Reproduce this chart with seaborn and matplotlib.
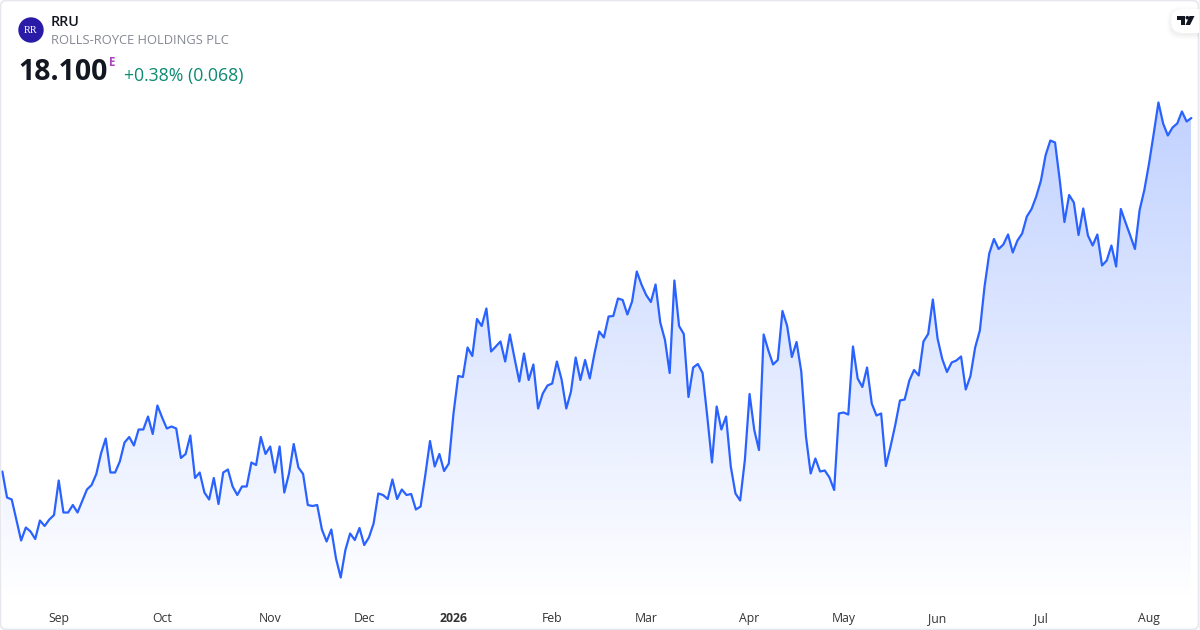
import numpy as np
import pandas as pd
import matplotlib.pyplot as plt
import seaborn as sns
from matplotlib.patches import Circle, FancyBboxPatch, Polygon

# Daily closes
closes_2025_a = [
    11.03, 10.51, 10.47, 10.06, 9.65, 9.91, 9.83, 9.68, 10.05, 9.94, 10.07, 10.16, 10.85, 10.21, 10.21, 10.36,
    10.21, 10.44, 10.67, 10.76, 10.98, 11.39, 11.69, 11.01, 11.01, 11.23, 11.61, 11.72, 11.55, 11.87, 11.87, 12.13,
    11.78, 12.35, 12.11, 11.89, 11.93, 11.89, 11.30, 11.38, 11.75, 10.90, 11.01, 10.61, 10.47, 10.90, 10.38, 11.01,
    11.07, 10.73, 10.56, 10.73, 10.73, 11.21, 11.16, 11.72, 11.38, 11.53, 11.01, 11.53, 10.61, 10.99, 11.58, 11.11,
]
closes_2025_b = [
    10.98, 10.36, 10.34, 10.36, 9.87, 9.63, 9.87, 9.29, 8.91, 9.46, 9.79, 9.66, 9.90, 9.56, 9.71, 9.99,
    10.59, 10.56, 10.48, 10.87, 10.48, 10.67, 10.56, 10.58, 10.27, 10.33, 10.96, 11.64, 11.13, 11.38, 11.04, 11.19,
    12.19,
]
closes_2026_a = [
    12.94, 12.92, 13.51, 13.34, 14.08, 13.94, 14.29, 13.43, 13.53, 13.63, 13.23, 13.77, 13.29, 12.83, 13.39, 12.86,
    13.17, 12.29, 12.59, 12.75, 12.79, 13.23, 12.87, 12.29, 12.63, 13.31, 12.86, 13.26, 12.89, 13.39, 13.83, 13.71,
    14.13, 14.14, 14.49, 14.46, 14.17, 14.43, 15.03, 14.77, 14.56, 14.42, 14.77, 14.01, 13.66, 13.00, 14.85, 13.94,
    13.78, 12.52, 13.11, 13.18, 13.00, 12.13, 11.21, 12.33, 11.87, 12.13,
]
closes_2026_b = [
    11.13, 10.59, 10.45, 11.26, 12.58, 11.86, 11.46, 13.77, 13.45, 13.17, 13.26, 14.24, 13.94, 13.32, 13.62, 13.03,
    11.73, 10.99, 11.29, 11.03, 11.05, 10.91, 10.66, 12.19, 12.21, 12.17, 13.53, 12.89, 12.72, 13.11, 12.39, 12.15,
    12.19, 11.14, 11.53, 11.96, 12.45, 12.47, 12.85, 13.06, 12.95, 13.63, 13.78, 14.47, 13.69, 13.28, 13.02,
]
closes_2026_c = [
    13.21, 13.25, 13.33, 12.67, 12.94, 13.51, 13.85, 14.73, 15.39, 15.68, 15.48, 15.57, 15.77, 15.41, 15.65, 15.79,
    16.13, 16.28, 16.53, 16.85, 17.36, 17.65, 17.61, 16.86, 16.02, 16.56, 16.41, 15.76, 16.29, 15.75, 15.55, 15.77,
    15.15, 15.25, 15.55, 15.13, 16.28, 16.01, 15.75, 15.48, 16.26, 16.66, 17.19, 17.79, 18.41, 17.99, 17.75, 17.91,
    17.99, 18.23, 18.03, 18.10,
]
month_labels = ['Sep', 'Oct', 'Nov', 'Dec', '2026', 'Feb', 'Mar', 'Apr', 'May', 'Jun', 'Jul', 'Aug']
month_bars = [12, 34, 57, 77, 96, 117, 137, 159, 179, 199, 221, 244]

df = pd.DataFrame({'close': closes_2025_a + closes_2025_b + closes_2026_a + closes_2026_b + closes_2026_c})
df['bar'] = df.index

sns.set_theme(style='white')
plt.rcParams['font.family'] = ['Open Sans', 'DejaVu Sans']

LINE = '#2962FF'

fig = plt.figure(figsize=(12, 6.3), dpi=100, facecolor='white')
ax = fig.add_axes([0, 28 / 630, 1, 602 / 630])

sns.lineplot(data=df, x='bar', y='close', color=LINE, linewidth=1.6, ax=ax,
             solid_joinstyle='round', zorder=3)

step = 1189 / (len(df) - 1)

# Vertical fade under the line, clipped to the area
fill = ax.fill_between(df['bar'], df['close'], 8.42, color='none')
top = df['close'].max()
shade = np.zeros((256, 2, 4))
shade[:, :, :3] = (41 / 255, 98 / 255, 1)
shade[:, :, 3] = np.linspace(0.29, 0.0, 256)[:, None]
img = ax.imshow(shade, extent=(0, len(df) - 1, 8.42, top), origin='upper', aspect='auto', zorder=2)
img.set_clip_path(fill.get_paths()[0], transform=ax.transData)
ax.set_xlim(-2.33 / step, (1200 - 2.33) / step)
ax.set_ylim(8.42, 20.46)

ax.set_xticks(month_bars)
ax.set_xticklabels(month_labels)
ax.set_yticks([])
ax.set_xlabel('')
ax.set_ylabel('')
ax.tick_params(axis='x', length=0, pad=7, labelsize=8.8, labelcolor='#333333')
ax.get_xticklabels()[4].set_fontweight('bold')
sns.despine(ax=ax, left=True, bottom=True)
ax.patch.set_alpha(0)

# Overlay in pixel units for the header, logo and frame
over = fig.add_axes([0, 0, 1, 1], zorder=5)
over.set_xlim(0, 1200)
over.set_ylim(630, 0)
over.axis('off')

over.add_patch(FancyBboxPatch((0.5, 0.5), 1198, 629, boxstyle='round,pad=0,rounding_size=6',
                              fill=False, edgecolor='#e6e8ee', linewidth=1.2))

over.add_patch(Circle((31, 30), 12, color='#2a1aa8', zorder=6))
over.text(31, 30.5, 'RR', color='white', fontsize=7.5, family='Liberation Serif', ha='center', va='center', zorder=7)

over.text(51, 21.5, 'RRU', fontsize=10.4, fontweight='semibold', color='#131722', va='center')
over.text(51, 41, 'ROLLS-ROYCE HOLDINGS PLC', fontsize=9.3, color='#868993', va='center')
over.text(18.5, 72.5, '18.100', fontsize=20.5, fontweight='bold', color='#131722', va='center')
over.text(109, 62, 'E', fontsize=8.4, fontweight='bold', color='#ab47bc', va='center')
over.text(124, 75.5, '+0.38% (0.068)', fontsize=12.7, color='#0c8a72', va='center')

# Badge in the top right corner
for grow, alpha in [(4, 0.012), (2.5, 0.018), (1, 0.025)]:
    over.add_patch(FancyBboxPatch((1171 - grow, 9 - grow + 2), 40 + grow * 2, 24 + grow * 2,
                                  boxstyle='round,pad=0,rounding_size=12', color='black', alpha=alpha, linewidth=0))
over.add_patch(FancyBboxPatch((1171, 9), 40, 24, boxstyle='round,pad=0,rounding_size=12',
                              facecolor='white', edgecolor='none'))
over.add_patch(Polygon([(1177, 16), (1185, 16), (1185, 25), (1181, 25), (1181, 20), (1177, 20)],
                       facecolor='#131722', edgecolor='none'))
over.add_patch(Circle((1187.3, 17.7), 1.8, facecolor='#131722', edgecolor='none'))
over.add_patch(Polygon([(1189.5, 16), (1194.5, 16), (1190, 25), (1185.5, 25)], facecolor='#131722', edgecolor='none'))
over.add_patch(FancyBboxPatch((1198.5, 0), 1.5, 630, boxstyle='square,pad=0', facecolor='#f2f3f5', edgecolor='none'))

fig.savefig('out.png', dpi=100)
